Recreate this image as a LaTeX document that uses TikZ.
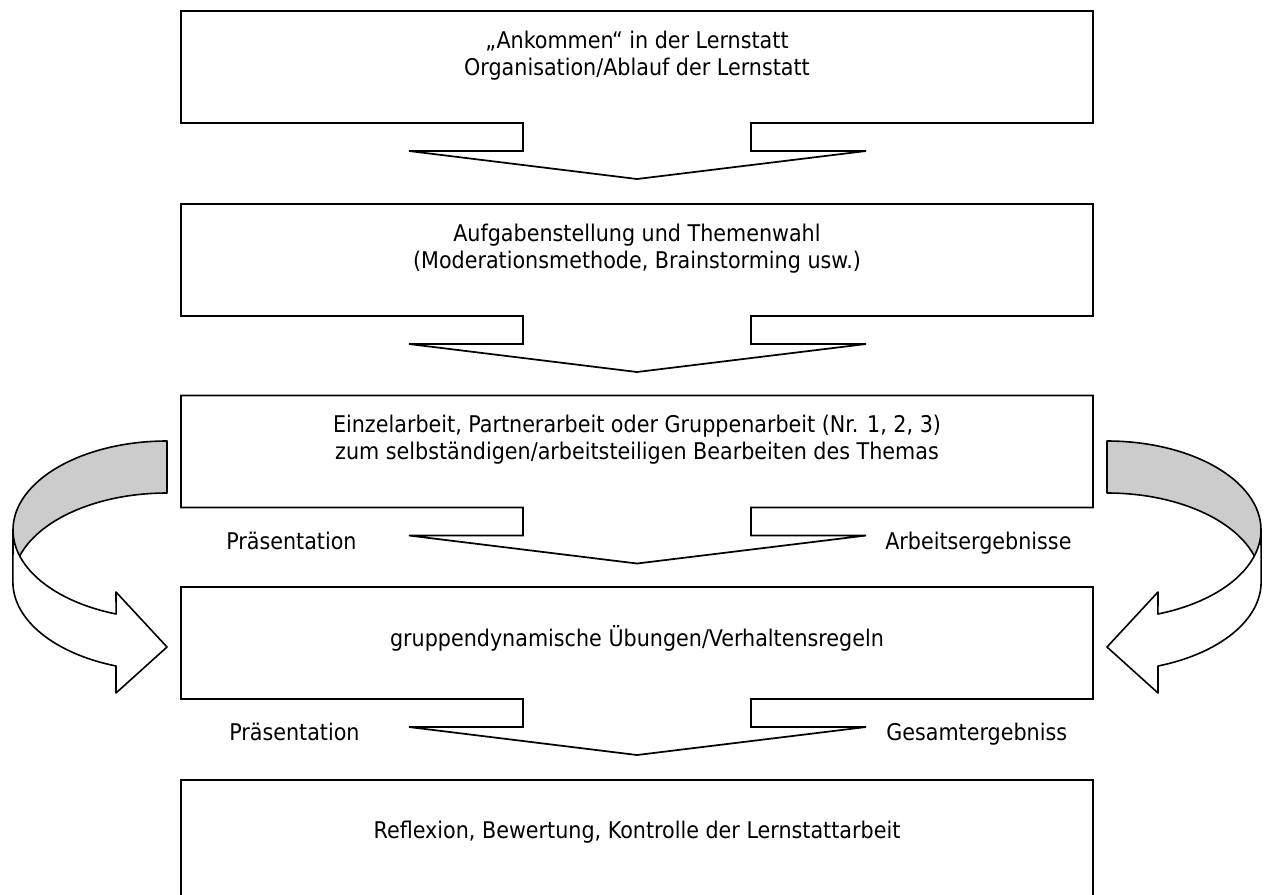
\documentclass[tikz,border=0pt]{standalone}
\usepackage{fontspec}
\setmainfont{DejaVu Sans Condensed}
\usetikzlibrary{calc}
\definecolor{band}{HTML}{CCCCCC}
\begin{document}
\begin{tikzpicture}[x=0.75pt,y=-0.75pt,
  box/.style={minimum width=684pt,minimum height=84pt,inner sep=0pt,outer sep=0pt},
  outline/.style={draw=black,line width=1.3pt},
  txt/.style={anchor=base,inner sep=0pt,font=\fontsize{17.25}{20}\selectfont},
  lbl/.style={anchor=base west,inner sep=0pt,font=\fontsize{17.25}{20}\selectfont},
  ribbon/.style={draw=black,line width=1.2pt,line join=round}]
\useasboundingbox (0,0) rectangle (1266,894);
\clip (0,0) rectangle (1266,894);

% boxes (outlines drawn below together with their arrows)
\node[box] (b1) at (637,67) {};
\node[box] (b2) at (637,260) {};
\node[box] (b3) at (637,451.5) {};
\node[box] (b4) at (637,643) {};
\node[box,minimum height=165pt] (b5) at (637,890) {};

% box outline merged with a block arrow pointing down
\foreach \b in {b1,b2,b3,b4}{
  \draw[outline] (\b.south west) -- (\b.north west) -- (\b.north east) -- (\b.south east)
    -- ($(\b.south)+(114,0)$) -- ++(0,28) -- ++(115,0)
    -- ($(\b.south)+(0,56)$)
    -- ($(\b.south)+(-228,28)$) -- ++(114,0)
    -- ($(\b.south)+(-114,0)$) -- cycle;
}
\draw[outline] (b5.south west) -- (b5.north west) -- (b5.north east) -- (b5.south east);

% texts
\node[txt] (t1a) at ($(b1.north)+(0,37)$) {„Ankommen“ in der Lernstatt};
\node[txt] (t1b) at ($(b1.north)+(0,64)$) {Organisation/Ablauf der Lernstatt};
\node[txt] (t2a) at ($(b2.north)+(0,37)$) {Aufgabenstellung und Themenwahl};
\node[txt] (t2b) at ($(b2.north)+(0,64)$) {(Moderationsmethode, Brainstorming usw.)};
\node[txt] (t3a) at ($(b3.north)+(0,37)$) {Einzelarbeit, Partnerarbeit oder Gruppenarbeit (Nr. 1, 2, 3)};
\node[txt] (t3b) at ($(b3.north)+(0,64)$) {zum selbständigen/arbeitsteiligen Bearbeiten des Themas};
\node[txt] (t4) at ($(b4.north)+(0,59)$) {gruppendynamische Übungen/Verhaltensregeln};
\node[txt] (t5) at ($(b5.north)+(0,58)$) {Reflexion, Bewertung, Kontrolle der Lernstattarbeit};

\node[lbl] (l3a) at (226,549) {Präsentation};
\node[lbl] (l3b) at (885,549) {Arbeitsergebnisse};
\node[lbl] (l4a) at (229,740) {Präsentation};
\node[lbl] (l4b) at (886,740) {Gesamtergebniss};

% curved ribbon arrows from box 3 back into box 4
\foreach \sh/\sx in {0/1,1274/-1}{
  \begin{scope}[shift={(\sh,0)},xscale=\sx]
    % back side of the ribbon
    \draw[ribbon,fill=band] (167,441) arc[start angle=-90,end angle=-180,x radius=154,y radius=89]
      -- (13,582) arc[start angle=180,end angle=270,x radius=154,y radius=89] -- cycle;
    % front side with arrow head
    \draw[ribbon,fill=white] (13,530) arc[start angle=180,end angle=109.3,x radius=154,y radius=89]
      -- (116,592) -- (167,647) -- (116,693)
      -- (116,666) arc[start angle=109.3,end angle=180,x radius=154,y radius=89] -- cycle;
  \end{scope}
}
\end{tikzpicture}
\end{document}
